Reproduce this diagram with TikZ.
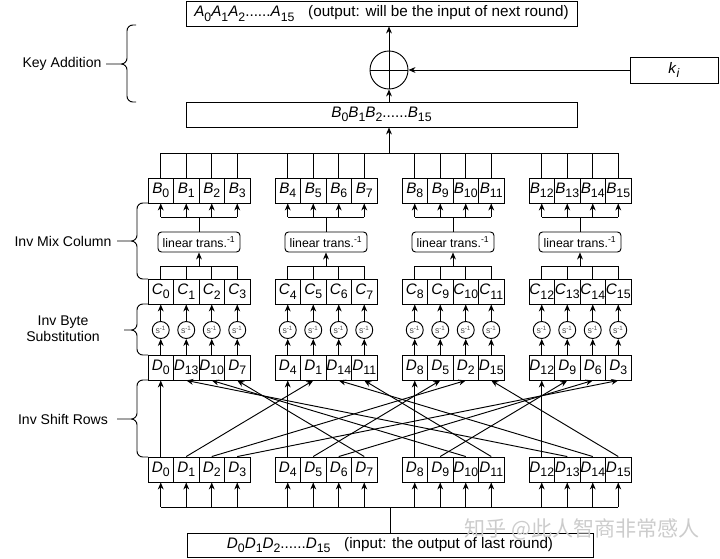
\documentclass[tikz,border=0pt]{standalone}
\usepackage{fontspec}
\setmainfont{Liberation Sans}
\newfontfamily\cjk{Noto Sans CJK SC}
\usetikzlibrary{arrows.meta}

% byte label: italic letter, upright lowered index
\newcommand{\byte}[2]{\textit{#1}\raisebox{-0.55ex}{\fontsize{10.5}{10.5}\selectfont #2}}

\tikzset{
  arr/.style={-{Stealth[length=6pt,width=5pt]}},
  cell/.style={draw, minimum width=0.765cm, minimum height=0.75cm, inner sep=0pt, font=\fontsize{13}{15}\selectfont},
  wide/.style={draw, minimum height=0.75cm, inner sep=0pt, font=\fontsize{13}{15}\selectfont},
  sbox/.style={draw, circle, minimum size=0.51cm, inner sep=0pt, text=black!70, font=\fontsize{7.5}{7.5}\selectfont},
  lin/.style={draw, rounded corners=3pt, minimum width=2.46cm, minimum height=0.6cm, inner sep=0pt, font=\fontsize{10.5}{12}\selectfont},
  side/.style={align=center},
}

\begin{document}
\begin{tikzpicture}[x=0.03cm, y=-0.03cm, line width=0.8pt, font=\fontsize{12}{14}\selectfont]
\useasboundingbox (0,0) rectangle (720,559);

% key addition part
\node[wide, minimum width=11.73cm] (abox) at (381.5,13.5) {\byte{A}{0}\byte{A}{1}\byte{A}{2}......\byte{A}{15}\hspace{0.9em}(output: will be the input of next round)};
\node[draw, circle, minimum size=1.14cm, inner sep=0pt] (xor) at (389,70) {};
\draw (xor.north) -- (xor.south);
\draw (xor.west) -- (xor.east);
\node[wide, minimum width=2.64cm, minimum height=0.78cm] (key) at (674,70) {\textit{k}\raisebox{-0.55ex}{\fontsize{10.5}{10.5}\selectfont\textit{i}}};
\node[wide, minimum width=11.73cm] (bbox) at (381.5,114.5) {\byte{B}{0}\byte{B}{1}\byte{B}{2}......\byte{B}{15}};
\draw[arr] (xor.north) -- (xor.north |- abox.south);
\draw[arr] (xor.south |- bbox.north) -- (xor.south);
\draw[arr] (key.west) -- (xor.east);

\coordinate (topbus) at (389,153);
\coordinate (botbus) at (390,507);

% the sixteen byte columns
\foreach \g in {0,...,3} {
  \pgfmathsetmacro\gc{199+127*\g}
  \coordinate (lt\g) at (\gc,217);
  \coordinate (ct\g) at (\gc,266);
  \node[lin] (lin\g) at (\gc,242) {linear trans.\textsuperscript{-1}};
  \foreach \j in {0,...,3} {
    \pgfmathtruncatemacro\p{4*\g+\j}
    \pgfmathtruncatemacro\v{4*mod(\g-\j+4,4)+\j}
    \pgfmathsetmacro\cx{160.75+127*\g+25.5*\j}
    \node[cell] (b\p) at (\cx,190.5) {\byte{B}{\p}};
    \node[cell] (c\p) at (\cx,291.5) {\byte{C}{\p}};
    \node[sbox] (s\p) at (\cx,330) {s\textsuperscript{-1}};
    \node[cell] (m\v) at (\cx,367.5) {\byte{D}{\v}};
    \node[cell] (d\p) at (\cx,469.5) {\byte{D}{\p}};
    \draw (b\p.north) -- (b\p.north |- topbus);
    \draw[arr] (b\p.south |- lt\g) -- (b\p.south);
    \draw (c\p.north) -- (c\p.north |- ct\g);
    \draw[arr] (m\v.north) -- (s\p.south);
    \draw[arr] (s\p.north) -- (c\p.south);
    \draw[arr] (d\p.south |- botbus) -- (d\p.south);
  }
  \pgfmathtruncatemacro\pa{4*\g}
  \pgfmathtruncatemacro\pb{4*\g+3}
  \draw (b\pa.south |- lt\g) -- (b\pb.south |- lt\g);
  \draw (lin\g.north) -- (lt\g);
  \draw (c\pa.north |- ct\g) -- (c\pb.north |- ct\g);
  \draw[arr] (ct\g) -- (lin\g.south);
}

% inv shift rows wiring
\foreach \v in {0,...,15}
  \draw[arr] (d\v.north) -- (m\v.south);

\draw (b0.north |- topbus) -- (b15.north |- topbus);
\draw[arr] (topbus) -- (topbus |- bbox.south);
\node[wide, minimum width=12.18cm, minimum height=0.72cm] (inbox) at (390,545) {\byte{D}{0}\byte{D}{1}\byte{D}{2}......\byte{D}{15}\hspace{0.9em}(input: the output of last round)};
\draw (d0.south |- botbus) -- (d15.south |- botbus);
\draw (inbox.north) -- (botbus);

% braces and step names
\draw[rounded corners=5pt] (136,25) -- (127,25) -- (127,64) -- (106,64)
  (136,102) -- (127,102) -- (127,64) -- (106,64);
\draw[rounded corners=5pt] (148,203) -- (137,203) -- (137,241) -- (117,241)
  (148,279) -- (137,279) -- (137,241) -- (117,241);
\draw[rounded corners=5pt] (148,304) -- (137,304) -- (137,330) -- (124,330)
  (148,355) -- (137,355) -- (137,330) -- (124,330);
\draw[rounded corners=5pt] (148,380) -- (137,380) -- (137,419) -- (117,419)
  (148,457) -- (137,457) -- (137,419) -- (117,419);
\node[side] (keyadd) at (62,64) {Key Addition};
\node[side] (mixcol) at (63,241) {Inv Mix Column};
\node[side] (bytesub) at (63,329) {Inv Byte\\Substitution};
\node[side] (shiftrow) at (63,419) {Inv Shift Rows};

\node[text=gray!40, font=\cjk\fontsize{18}{18}\selectfont] (mark) at (582,529) {知乎 @此人智商非常感人};
\end{tikzpicture}
\end{document}
